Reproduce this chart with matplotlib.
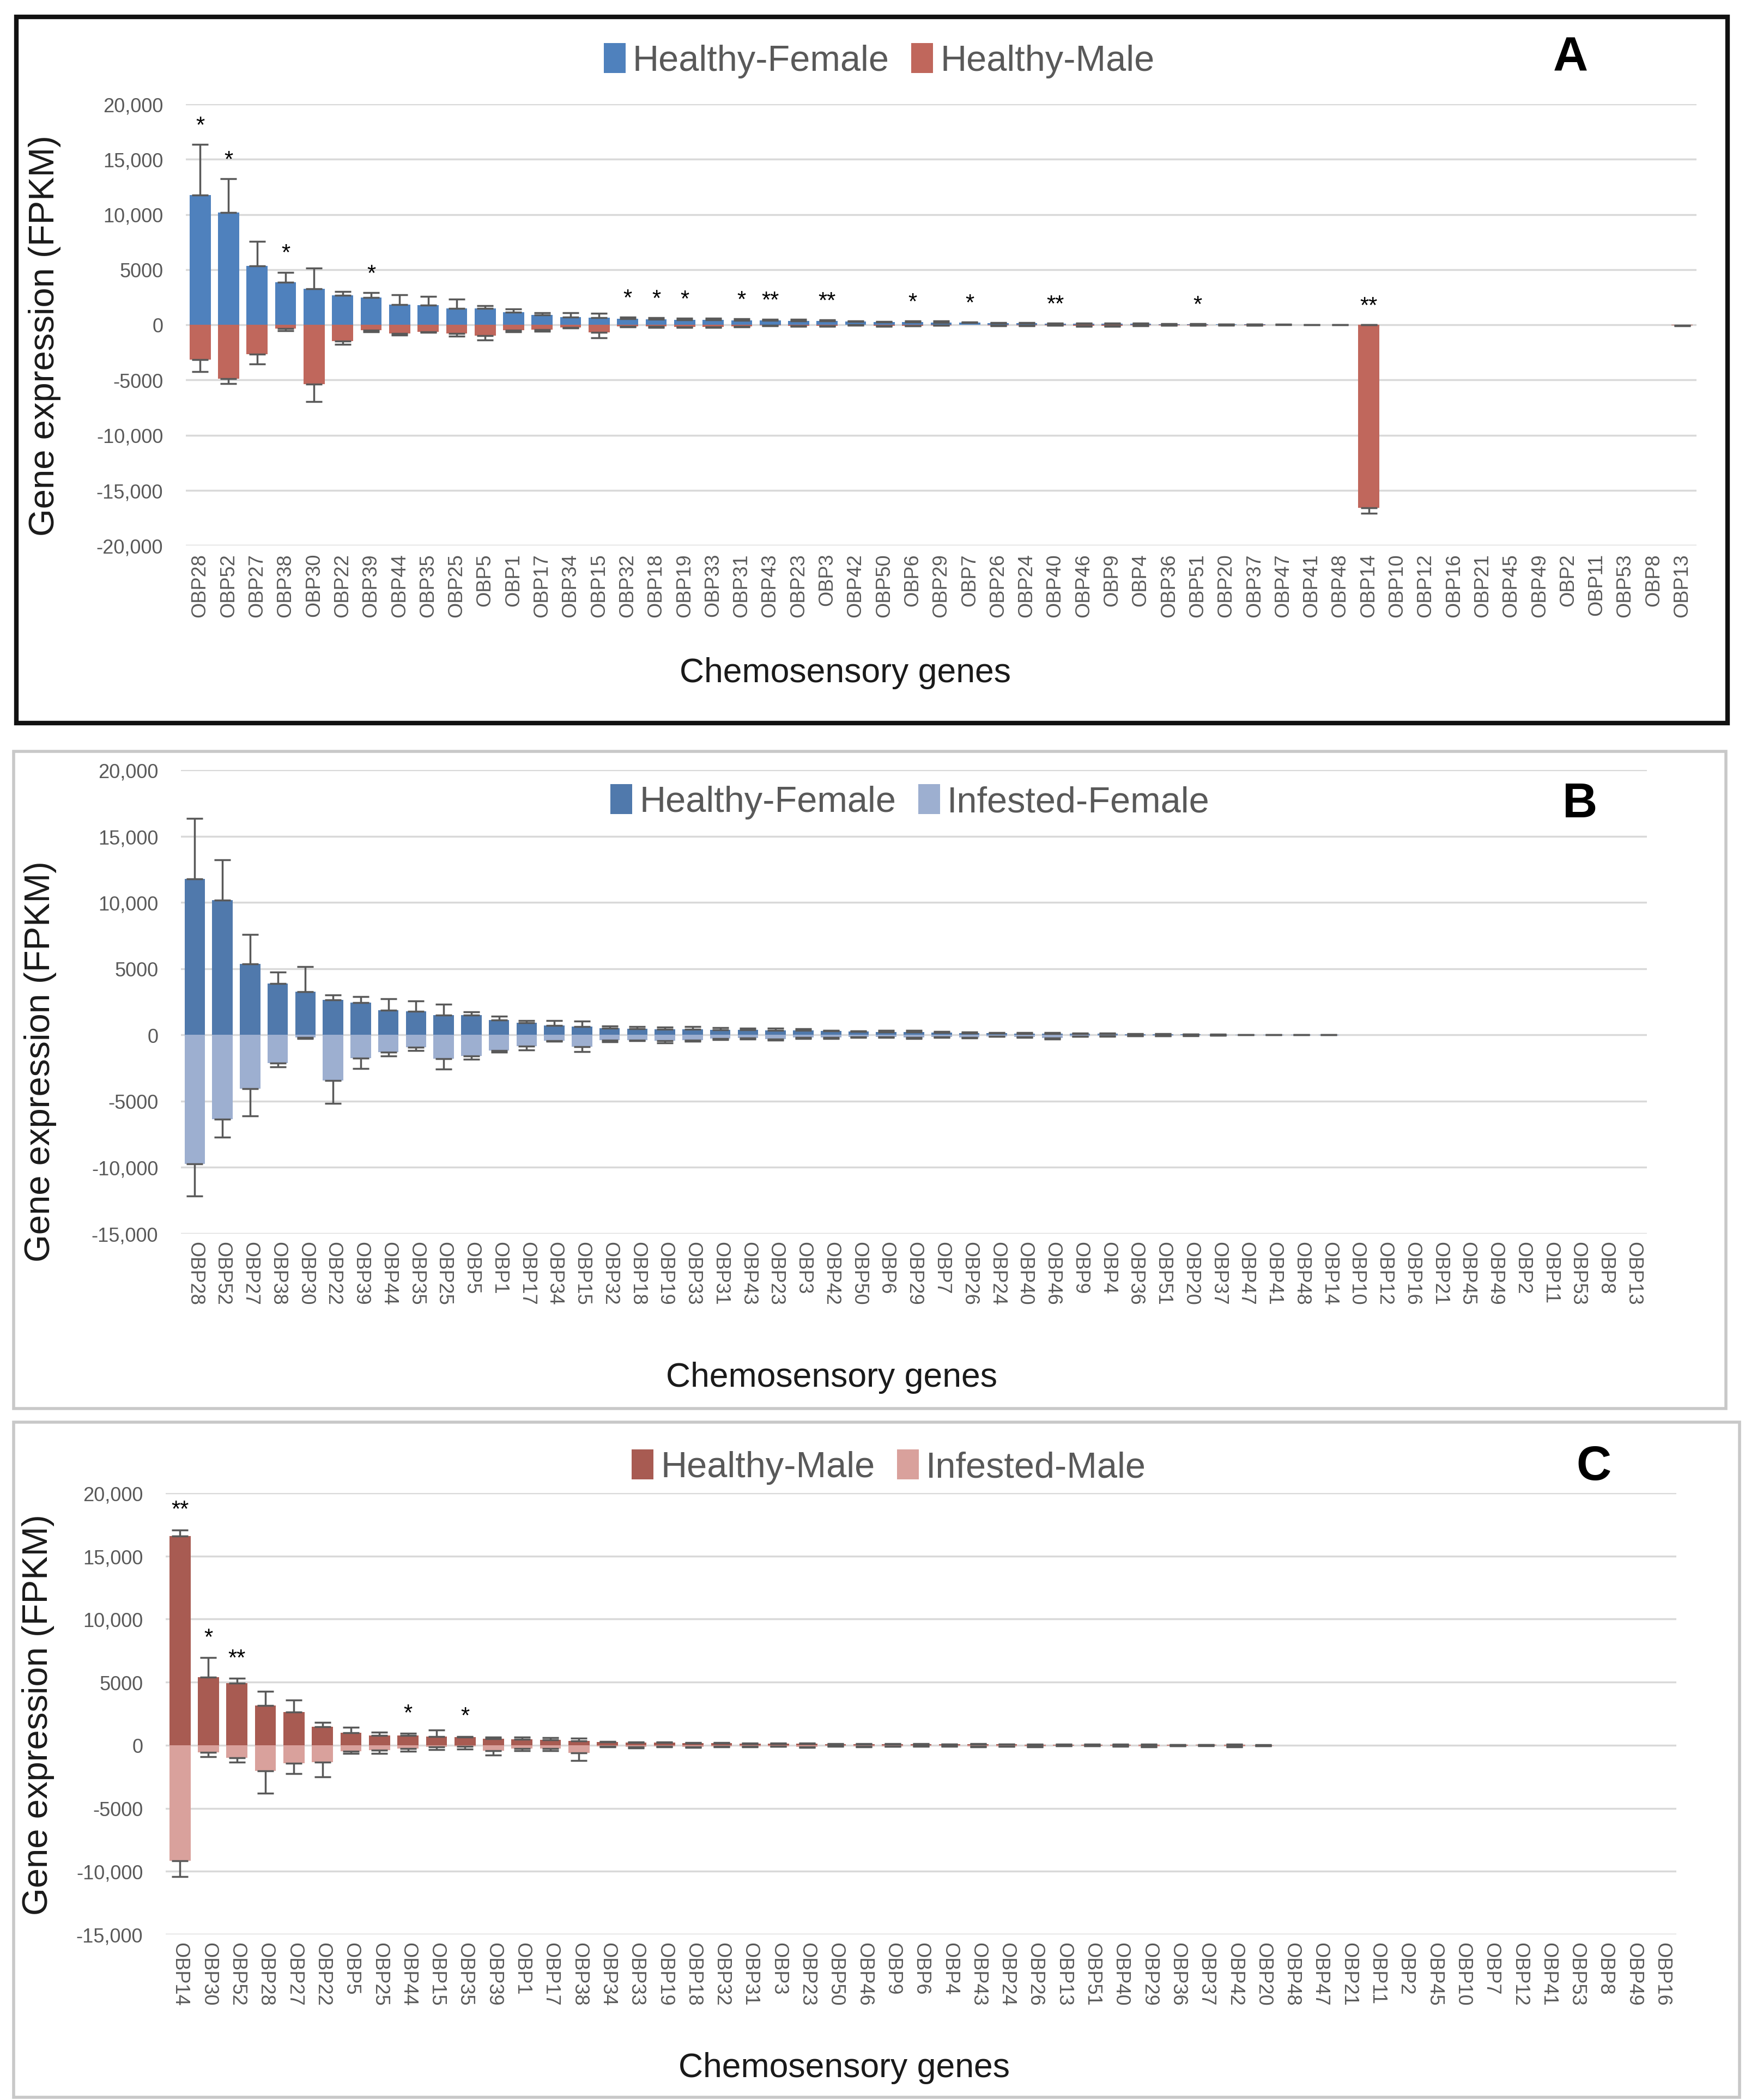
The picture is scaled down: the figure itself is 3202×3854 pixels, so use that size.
import numpy as np
import matplotlib
matplotlib.use("Agg")
from matplotlib import pyplot as plt
from matplotlib.patches import Patch, Rectangle

# gene order of panels A and B (sorted by healthy-female expression)
genes_a = ["OBP28", "OBP52", "OBP27", "OBP38", "OBP30", "OBP22", "OBP39", "OBP44", "OBP35", "OBP25",
           "OBP5", "OBP1", "OBP17", "OBP34", "OBP15", "OBP32", "OBP18", "OBP19", "OBP33", "OBP31",
           "OBP43", "OBP23", "OBP3", "OBP42", "OBP50", "OBP6", "OBP29", "OBP7", "OBP26", "OBP24",
           "OBP40", "OBP46", "OBP9", "OBP4", "OBP36", "OBP51", "OBP20", "OBP37", "OBP47", "OBP41",
           "OBP48", "OBP14", "OBP10", "OBP12", "OBP16", "OBP21", "OBP45", "OBP49", "OBP2", "OBP11",
           "OBP53", "OBP8", "OBP13"]

# gene order of panel C (sorted by healthy-male expression)
genes_c = ["OBP14", "OBP30", "OBP52", "OBP28", "OBP27", "OBP22", "OBP5", "OBP25", "OBP44", "OBP15",
           "OBP35", "OBP39", "OBP1", "OBP17", "OBP38", "OBP34", "OBP33", "OBP19", "OBP18", "OBP32",
           "OBP31", "OBP3", "OBP23", "OBP50", "OBP46", "OBP9", "OBP6", "OBP4", "OBP43", "OBP24",
           "OBP26", "OBP13", "OBP51", "OBP40", "OBP29", "OBP36", "OBP37", "OBP42", "OBP20", "OBP48",
           "OBP47", "OBP21", "OBP11", "OBP2", "OBP45", "OBP10", "OBP7", "OBP12", "OBP41", "OBP53",
           "OBP8", "OBP49", "OBP16"]

# FPKM means and error (one side) in genes_a order
healthy_female = [11760, 10180, 5350, 3860, 3250, 2650, 2450, 1850, 1800, 1500,
                  1480, 1130, 900, 700, 620, 520, 470, 440, 430, 400,
                  380, 360, 330, 280, 250, 230, 210, 190, 150, 130,
                  110, 100, 90, 80, 65, 55, 35, 25, 18, 12,
                  9, 7, 5, 4, 3, 3, 2, 2, 1, 1,
                  1, 0, 0]
healthy_female_sd = [4600, 3050, 2230, 900, 1900, 350, 450, 870, 750, 820,
                     250, 300, 190, 380, 400, 170, 160, 160, 180, 150,
                     120, 150, 120, 80, 70, 100, 120, 60, 60, 50,
                     50, 60, 60, 50, 30, 30, 20, 10, 10, 5,
                     5, 5, 0, 0, 0, 0, 0, 0, 0, 0,
                     0, 0, 0]
healthy_male = [3150, 4900, 2650, 330, 5400, 1480, 500, 780, 640, 790,
                980, 490, 430, 250, 700, 150, 170, 190, 210, 130,
                65, 110, 120, 20, 100, 75, 35, 2, 55, 60,
                40, 90, 85, 70, 30, 45, 15, 25, 8, 1,
                10, 16570, 2, 1, 0, 6, 3, 0, 4, 5,
                0, 0, 50]
healthy_male_sd = [1120, 420, 920, 220, 1550, 320, 140, 150, 60, 230,
                   420, 140, 160, 60, 500, 60, 60, 80, 60, 50,
                   40, 50, 40, 40, 40, 30, 30, 0, 30, 30,
                   30, 50, 40, 30, 20, 20, 10, 10, 0, 0,
                   0, 510, 0, 0, 0, 0, 0, 0, 0, 0,
                   0, 0, 30]
infested_female = [9730, 6350, 4070, 2120, 200, 3430, 1740, 1310, 930, 1780,
                   1600, 1170, 860, 450, 880, 400, 380, 450, 400, 260,
                   250, 300, 200, 200, 150, 150, 200, 150, 180, 100,
                   150, 250, 100, 80, 60, 50, 40, 30, 15, 10,
                   10, 15, 3, 2, 2, 2, 2, 1, 1, 1,
                   1, 0, 0]
infested_female_sd = [2430, 1360, 2050, 310, 60, 1730, 810, 290, 240, 810,
                      230, 140, 260, 50, 380, 120, 70, 150, 100, 80,
                      80, 80, 60, 60, 40, 40, 60, 40, 50, 30,
                      40, 60, 30, 20, 15, 15, 10, 10, 0, 0,
                      0, 0, 0, 0, 0, 0, 0, 0, 0, 0,
                      0, 0, 0]
infested_male = [2045, 1000, 1445, 600, 550, 1350, 450, 250, 100, 375,
                 500, 275, 250, 100, 150, 100, 120, 100, 150, 100,
                 80, 120, 80, 80, 60, 60, 80, 5, 100, 80,
                 50, 100, 80, 60, 30, 40, 40, 20, 5, 3,
                 5, 9170, 2, 2, 1, 3, 2, 1, 2, 2,
                 1, 1, 30]
infested_male_sd = [1745, 350, 800, 600, 370, 1145, 350, 250, 200, 275,
                    150, 175, 200, 50, 200, 40, 50, 50, 60, 40,
                    40, 60, 30, 40, 30, 30, 40, 0, 40, 30,
                    30, 40, 30, 30, 15, 20, 20, 10, 0, 0,
                    0, 1250, 0, 0, 0, 0, 0, 0, 0, 0,
                    0, 0, 15]

stars_a = {"OBP28": "*", "OBP52": "*", "OBP38": "*", "OBP39": "*", "OBP32": "*", "OBP18": "*",
           "OBP19": "*", "OBP31": "*", "OBP43": "**", "OBP3": "**", "OBP6": "*", "OBP7": "*",
           "OBP40": "**", "OBP51": "*", "OBP14": "**"}
stars_c = {"OBP14": "**", "OBP30": "*", "OBP52": "**", "OBP44": "*", "OBP35": "*"}

W, H = 3202, 3855
GRAY = "#595959"
FONT = ["Liberation Sans", "DejaVu Sans"]


def reorder(values, order):
    idx = [genes_a.index(g) for g in order]
    return [values[i] for i in idx]


def fmt_tick(v):
    v = int(v)
    if abs(v) >= 10000:
        return f"{v:,}"
    return str(v)


def fig_box(px_left, px_top, px_right, px_bottom):
    return [px_left / W, 1 - px_bottom / H, (px_right - px_left) / W, (px_bottom - px_top) / H]


def draw_panel(ax, genes, up, up_sd, down, down_sd, c_up, c_down, ylim, yticks, rot, stars):
    x = np.arange(len(genes))
    up = np.array(up, float)
    down = -np.array(down, float)
    up_sd = np.array(up_sd, float)
    down_sd = np.array(down_sd, float)
    ax.bar(x, up, width=0.74, color=c_up, zorder=2)
    ax.bar(x, down, width=0.74, color=c_down, zorder=2)
    # error bars only where there is a spread
    m = up_sd > 0
    ax.errorbar(x[m], up[m], yerr=[np.zeros(m.sum()), up_sd[m]], fmt="none", ecolor=GRAY,
                elinewidth=2.5, capsize=11, capthick=2.5, zorder=3)
    m = down_sd > 0
    ax.errorbar(x[m], down[m], yerr=[down_sd[m], np.zeros(m.sum())], fmt="none", ecolor=GRAY,
                elinewidth=2.5, capsize=11, capthick=2.5, zorder=3)
    for g, s in stars.items():
        i = genes.index(g)
        ytop = max(up[i] + up_sd[i], 0)
        ax.text(i, ytop + 700, s, ha="center", va="bottom", fontsize=30,
                color="black", family=FONT)
    n = len(genes)
    ax.set_xlim(-0.5, n - 0.5)
    ax.set_ylim(*ylim)
    ax.set_yticks(yticks)
    ax.set_yticklabels([fmt_tick(v) for v in yticks], family=FONT)
    ax.set_xticks(x)
    ax.set_xticklabels(genes, rotation=rot, family=FONT, va="top", ha="center")
    ax.tick_params(axis="both", length=0, colors=GRAY)
    ax.tick_params(axis="y", labelsize=26, pad=30)
    ax.tick_params(axis="x", labelsize=26, pad=10)
    for sp in ax.spines.values():
        sp.set_visible(False)
    ax.yaxis.grid(True, color="#D9D9D9", linewidth=2.5)
    ax.set_axisbelow(True)


fig = plt.figure(figsize=(W / 100, H / 100), dpi=100)

# panel frames
fig.patches.append(Rectangle((30 / W, 1 - 1328 / H), 3140 / W, 1296 / H, transform=fig.transFigure,
                             fill=False, edgecolor="#111111", linewidth=6))
fig.patches.append(Rectangle((25 / W, 1 - 2586 / H), 3142 / W, 1206 / H, transform=fig.transFigure,
                             fill=False, edgecolor="#C8C8C8", linewidth=4))
fig.patches.append(Rectangle((25 / W, 1 - 3850 / H), 3167 / W, 1239 / H, transform=fig.transFigure,
                             fill=False, edgecolor="#C8C8C8", linewidth=4))

# panel A
ax_a = fig.add_axes(fig_box(341, 192, 3113, 1002))
draw_panel(ax_a, genes_a, healthy_female, healthy_female_sd, healthy_male, healthy_male_sd,
           "#4F81BD", "#C0675C", (-20000, 20000),
           [20000, 15000, 10000, 5000, 0, -5000, -10000, -15000, -20000], 90, stars_a)

# panel B
ax_b = fig.add_axes(fig_box(332, 1414, 3022, 2265))
draw_panel(ax_b, genes_a, healthy_female, healthy_female_sd, infested_female, infested_female_sd,
           "#5079AC", "#9DAFD0", (-15000, 20000),
           [20000, 15000, 10000, 5000, 0, -5000, -10000, -15000], 270, {})

# panel C
genes_c_hm = reorder(healthy_male, genes_c)
genes_c_hm_sd = reorder(healthy_male_sd, genes_c)
genes_c_im = reorder(infested_male, genes_c)
genes_c_im_sd = reorder(infested_male_sd, genes_c)
ax_c = fig.add_axes(fig_box(304, 2741, 3076, 3551))
draw_panel(ax_c, genes_c, genes_c_hm, genes_c_hm_sd, genes_c_im, genes_c_im_sd,
           "#A85B52", "#D9A19C", (-15000, 20000),
           [20000, 15000, 10000, 5000, 0, -5000, -10000, -15000], 270, stars_c)

panels = [
    (["Healthy-Female", "Healthy-Male"], ["#4F81BD", "#C0675C"], (1613, 112), "A", (2882, 107),
     (1551, 1236), (82, 616)),
    (["Healthy-Female", "Infested-Female"], ["#5079AC", "#9DAFD0"], (1670, 1472), "B", (2899, 1477),
     (1526, 2528), (74, 1948)),
    (["Healthy-Male", "Infested-Male"], ["#A85B52", "#D9A19C"], (1631, 2693), "C", (2924, 2693),
     (1549, 3796), (70, 3147)),
]
for labs, cols, lpos, letter, letpos, xlpos, ylpos in panels:
    handles = [Patch(facecolor=c, edgecolor="none") for c in cols]
    fig.legend(handles, labs, loc="center", bbox_to_anchor=(lpos[0] / W, 1 - lpos[1] / H),
               ncol=2, frameon=False, handlelength=0.6, handleheight=0.9, handletextpad=0.2,
               columnspacing=0.6, prop={"family": FONT, "size": 48}, labelcolor=GRAY)
    fig.text(letpos[0] / W, 1 - letpos[1] / H, letter, ha="center", va="center",
             fontsize=64, fontweight="bold", color="black", family=FONT)
    fig.text(xlpos[0] / W, 1 - xlpos[1] / H, "Chemosensory genes", ha="center", va="center",
             fontsize=45, color="#1A1A1A", family=FONT)
    fig.text(ylpos[0] / W, 1 - ylpos[1] / H, "Gene expression (FPKM)", ha="center", va="center",
             rotation=90, fontsize=47, color="#1A1A1A", family=FONT)

fig.savefig("out.png", dpi=100, facecolor="white")
